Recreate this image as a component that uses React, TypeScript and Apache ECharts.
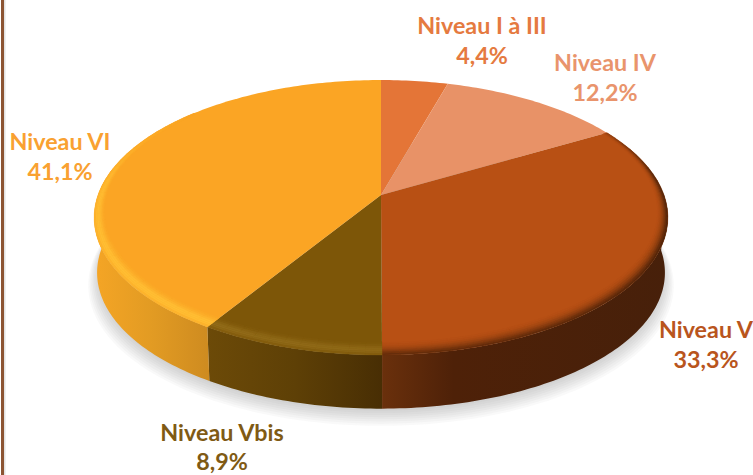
import React, { useEffect, useRef } from "react";
import * as echarts from "echarts";

const categories = ["Niveau I à III", "Niveau IV", "Niveau V", "Niveau Vbis", "Niveau VI"];
const shares = [4.4, 12.2, 33.3, 8.9, 41.1];

const topColors = ["#E47537", "#E89267", "#B85014", "#7D5608", "#FBA524"];
const labelColors = ["#E57A40", "#E9946C", "#B9551D", "#7F5A14", "#F9A131"];

// view geometry of the tilted disc
const CX = 381, CY = 195, A = 283, B = 133.8, P = 0.1636, DEPTH = 55.6, BOTTOM_SCALE = 0.99;
const total = shares.reduce((a, b) => a + b, 0);
const rad = (d: number) => (d * Math.PI) / 180;
const project = (theta: number, r = 1, dy = 0): number[] => {
  const u = r * Math.sin(rad(theta));
  const v = r * Math.cos(rad(theta));
  const w = 1 + P * v;
  return [CX + (A * u) / w, CY - (B * v) / w + dy];
};
const arc = (t0: number, t1: number, r = 1, dy = 0, step = 1): number[][] => {
  const pts: number[][] = [];
  const n = Math.max(1, Math.ceil(Math.abs(t1 - t0) / step));
  for (let i = 0; i <= n; i++) pts.push(project(t0 + ((t1 - t0) * i) / n, r, dy));
  return pts;
};
const bounds = (i: number): number[] => {
  let c = 0;
  for (let k = 0; k < i; k++) c += shares[k];
  return [(c / total) * 360, ((c + shares[i]) / total) * 360];
};
const hex = (c: string) => [1, 3, 5].map((p) => parseInt(c.slice(p, p + 2), 16));
const mix = (a: string, b: string, t: number) => {
  const x = hex(a), y = hex(b);
  return `rgb(${x.map((v, i) => Math.round(v + (y[i] - v) * t)).join(",")})`;
};
const lerpTable = (tb: number[][], t: number) => {
  if (t <= tb[0][0]) return tb[0][1];
  for (let i = 1; i < tb.length; i++) {
    if (t <= tb[i][0]) {
      const f = (t - tb[i - 1][0]) / (tb[i][0] - tb[i - 1][0]);
      return tb[i - 1][1] + (tb[i][1] - tb[i - 1][1]) * f;
    }
  }
  return tb[tb.length - 1][1];
};

const walls: Record<number, { from: number; to: number; stops: [number, string][] }> = {
  2: { from: 90, to: 360, stops: [[0, "#6A300C"], [0.25, "#4E2108"], [1, "#47200A"]] },
  3: { from: 0, to: 360, stops: [[0, "#6C4A08"], [0.5, "#5E4006"], [1, "#482E04"]] },
  4: { from: 0, to: 282, stops: [[0, "#F5A525"], [0.5, "#E29B23"], [1, "#CE8B20"]] },
};
const rims: Record<number, { target: string; table: number[][]; profile: number[] }> = {
  2: { target: "#4A2108", table: [[60, 0.35], [80, 0.95], [110, 1], [150, 0.85], [180, 0.8]], profile: [0.03, 0.08, 0.18, 0.32, 0.5, 0.72, 0.92] },
  3: { target: "#9A7420", table: [[180, 0.6], [212, 0.7]], profile: [0.1, 0.3, 0.6, 0.9, 1, 0.8, 0.4] },
  4: { target: "#FFBE33", table: [[212, 1], [250, 1], [275, 0.9], [295, 0.3], [312, 0]], profile: [0.1, 0.3, 0.6, 0.9, 1, 0.9, 0.6] },
};
const rimWidth = (theta: number) => 0.012 + 0.055 * Math.pow((1 - Math.cos(rad(theta))) / 2, 1.5);
const sliceData = categories.map((name, i) => ({ name, value: shares[i] }));

const renderShadow = () => {
  const children: any[] = [];
  for (let k = 7; k >= 0; k--) {
    children.push({
      type: "polygon",
      shape: { points: arc(0, 360, 0.985 + k * 0.005, DEPTH + 3 + k * 1.2, 2) },
      style: { fill: "rgba(100,100,100,0.04)" },
    });
  }
  return { type: "group", children };
};

const renderWall = (_p: any, api: any) => {
  const i = api.value(2);
  const wall = walls[i];
  if (!wall) return { type: "group", children: [] };
  const [b0, b1] = bounds(i);
  const t0 = Math.max(b0, wall.from), t1 = Math.min(b1, wall.to);
  const points = arc(t0, t1, 1, 0).concat(arc(t1, t0, BOTTOM_SCALE, DEPTH));
  return {
    type: "polygon",
    shape: { points },
    style: {
      fill: new echarts.graphic.LinearGradient(0, 0, 1, 0, wall.stops.map(([offset, color]) => ({ offset, color }))),
    },
  };
};

const renderTop = (_p: any, api: any) => {
  const i = api.value(2);
  const [b0, b1] = bounds(i);
  const children: any[] = [
    {
      type: "polygon",
      shape: { points: [[CX, CY], ...arc(b0, b1)] },
      style: { fill: topColors[i] },
    },
  ];
  const rim = rims[i];
  if (rim) {
    const segs = Math.ceil((b1 - b0) / 3);
    for (let s = 0; s < segs; s++) {
      const t0 = b0 + ((b1 - b0) * s) / segs;
      const t1 = b0 + ((b1 - b0) * (s + 1)) / segs;
      const strength = lerpTable(rim.table, (t0 + t1) / 2);
      if (strength <= 0) continue;
      const n = rim.profile.length;
      const w0 = rimWidth(t0), w1 = rimWidth(t1);
      for (let b = 0; b < n; b++) {
        const fill = mix(topColors[i], rim.target, strength * rim.profile[b]);
        const quad = [
          project(t0, 1 - (w0 * (n - b)) / n),
          project(t1, 1 - (w1 * (n - b)) / n),
          project(t1, 1 - (w1 * (n - b - 1)) / n),
          project(t0, 1 - (w0 * (n - b - 1)) / n),
        ];
        children.push({
          type: "polygon",
          shape: { points: quad },
          style: { fill, stroke: fill, lineWidth: 0.4 },
        });
      }
    }
  }
  return { type: "group", children };
};

const labelAnchors = [
  [482, 25, 30],
  [605, 62, 30],
  [706, 329, 30],
  [222, 432, 29],
  [60, 141, 30],
];
const renderLabel = (_p: any, api: any) => {
  const i = api.value(2);
  const [x, y, gap] = labelAnchors[i];
  const base = {
    align: "center",
    verticalAlign: "middle",
    fill: labelColors[i],
    fontFamily: "Lato, 'Open Sans', sans-serif",
    fontWeight: 700,
    fontSize: 23.3,
  };
  return {
    type: "group",
    children: [
      { type: "text", style: { ...base, text: categories[i], x, y } },
      { type: "text", style: { ...base, text: shares[i].toFixed(1).replace(".", ",") + "%", x, y: y + gap } },
    ],
  };
};

export default function App() {
  const ref = useRef<HTMLDivElement>(null);
  useEffect(() => {
    document.body.style.margin = "0";
    const chart = echarts.init(ref.current!, undefined, { renderer: "svg" });
    const rows = sliceData.map((d, i) => ({ name: d.name, value: [d.value, 0, i] }));
    const common = { type: "custom", coordinateSystem: "none", silent: true, clip: false };
    chart.setOption({
      animation: false,
      backgroundColor: "#ffffff",
      graphic: [
        { type: "rect", shape: { x: 1, y: 0, width: 3, height: 475 }, style: { fill: "#8C5433" } },
        { type: "rect", shape: { x: 4, y: 0, width: 1.5, height: 475 }, style: { fill: "#E2E2E2" } },
      ],
      series: [
        { ...common, z: 1, data: [{ name: "shadow", value: [0, 0, 0] }], renderItem: renderShadow },
        { ...common, z: 2, data: rows, renderItem: renderWall },
        { ...common, z: 3, data: rows, renderItem: renderTop },
        { ...common, z: 4, data: rows, renderItem: renderLabel },
      ],
    });
    return () => chart.dispose();
  }, []);
  return <div ref={ref} style={{ width: 753, height: 475 }} />;
}
